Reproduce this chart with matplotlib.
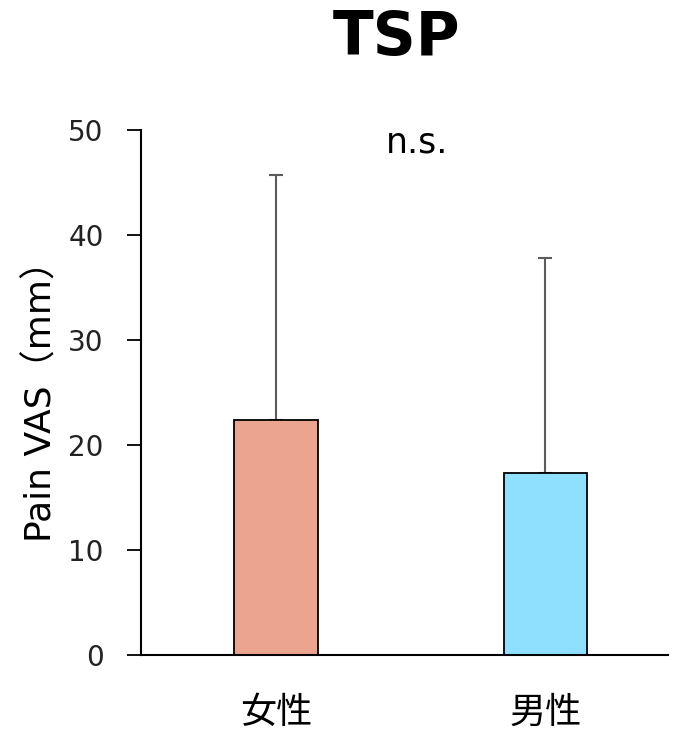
import matplotlib
matplotlib.use('Agg')
import matplotlib.pyplot as plt

plt.rcParams['font.family'] = ['DejaVu Sans', 'Noto Sans CJK JP']

groups = ['女性', '男性']
means = [22.4, 17.3]
sd_upper = [23.3, 20.5]
colors = ['#EBA48E', '#8FE0FF']
yticks = [0, 10, 20, 30, 40, 50]

fig = plt.figure(figsize=(6.74, 7.33), dpi=100)
ax = fig.add_axes([0.2092, 0.1064, 0.7818, 0.7162])

pos = list(range(len(groups)))
ax.bar(pos, means, width=0.31, color=colors, edgecolor='black', linewidth=1.3, zorder=2)
ax.errorbar(pos, means, yerr=[[0] * len(means), sd_upper], fmt='none',
            ecolor='#5c5c5c', elinewidth=1.5, capsize=5, capthick=1.5, zorder=1)

ax.set_xlim(-0.5, 1.455)
ax.set_ylim(0, 50)
ax.set_yticks(yticks)
ax.set_yticklabels([str(t) for t in yticks], fontsize=20, color='#222222')
ax.set_xticks(pos)
ax.set_xticklabels(groups, fontsize=26, family='Noto Sans CJK JP')
ax.tick_params(axis='x', length=0, pad=29)
ax.tick_params(axis='y', length=10, width=1.3, pad=17, direction='out')
for s in ['top', 'right']:
    ax.spines[s].set_visible(False)
for s in ['left', 'bottom']:
    ax.spines[s].set_linewidth(1.5)
ax.set_ylabel('Pain VAS（mm）', fontsize=26, labelpad=7)

# n.s. annotation above the bars
ax.text(0.524, 48.8, 'n.s.', ha='center', va='center', fontsize=25)

fig.text(397 / 674, 1 - 38 / 733, 'TSP', ha='center', va='center',
         fontsize=43, fontweight='bold')

fig.savefig('out.png', dpi=100)
